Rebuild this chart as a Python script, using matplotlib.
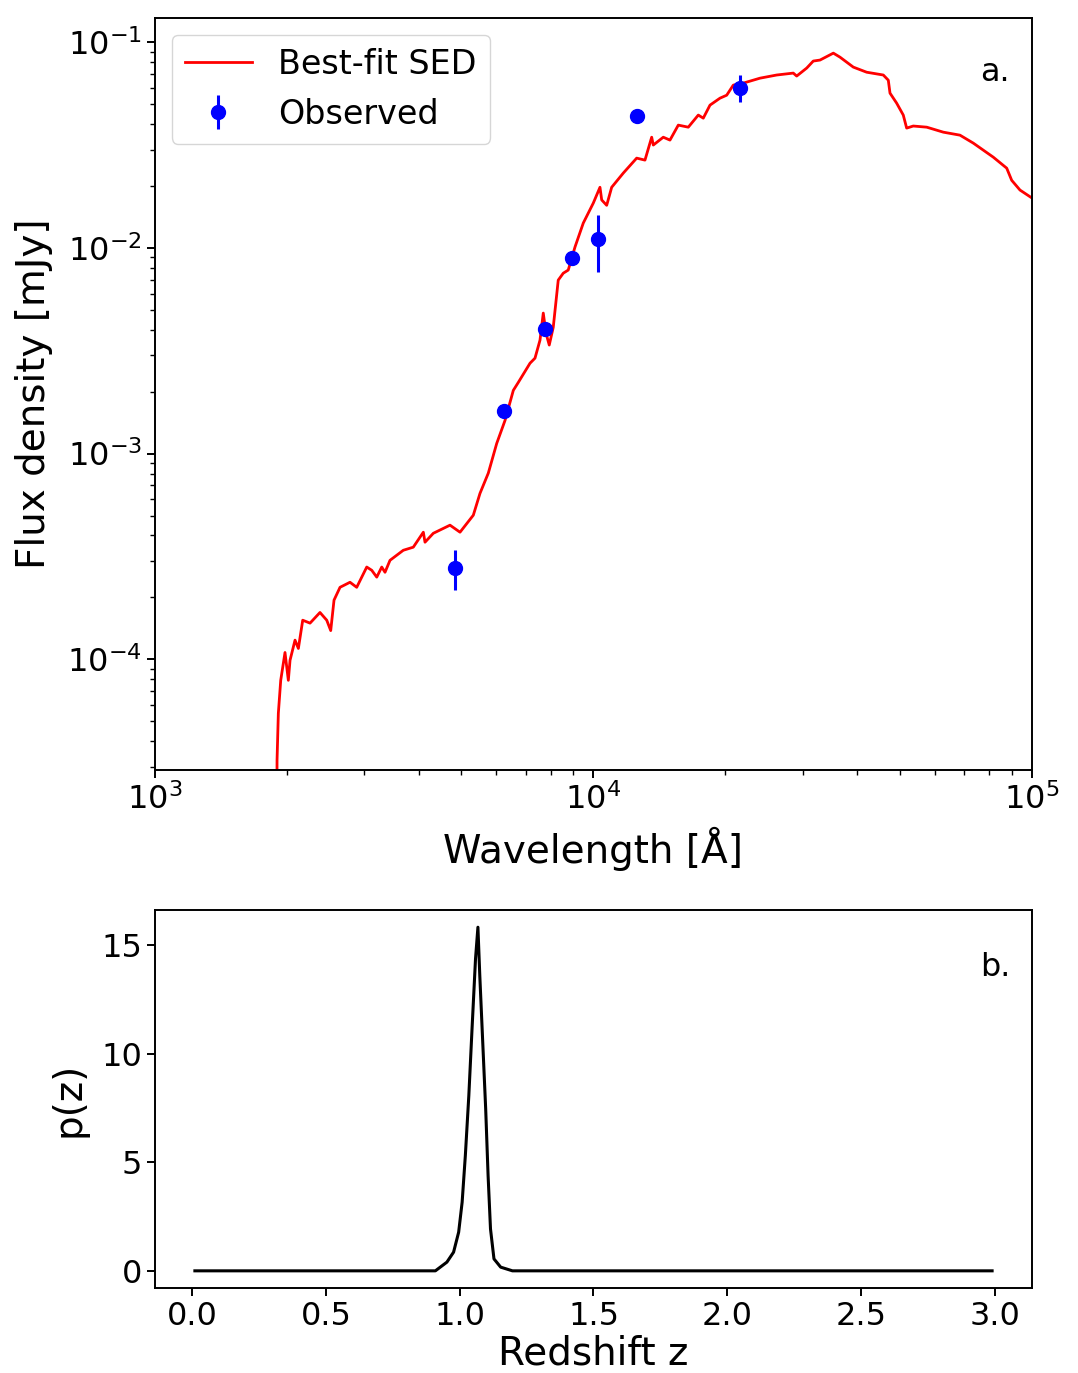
import numpy as np
import matplotlib
matplotlib.use('Agg')
import matplotlib.pyplot as plt

# best-fit SED (wavelength in Angstrom, flux density in mJy)
sedWave = [1885, 1898, 1911, 1935, 1979, 2014, 2032, 2086, 2123, 2172, 2257, 2378, 2464,
           2516, 2560, 2642, 2784, 2884, 3040, 3121, 3204, 3289, 3346, 3435, 3683, 3882,
           4092, 4128, 4312, 4707, 4961, 5320, 5510, 5756, 6015, 6284, 6564, 6739, 7165,
           7355, 7551, 7682, 7792, 7927, 8095, 8310, 8531, 8758, 9075, 9478, 9989, 10346,
           10440, 10717, 11002, 11695, 12545, 13104, 13574, 13690, 14427, 14942, 15610,
           16452, 17338, 17799, 18437, 19430, 20126, 20835, 21958, 23974, 26171, 28553,
           29068, 30640, 31713, 32855, 35238, 36492, 39130, 41976, 45808, 47026, 47450,
           49137, 50874, 51786, 53616, 57544, 62780, 68518, 73470, 81605, 87580, 89900,
           93900, 99470, 101000]
sedFlux = [1e-6, 3.23e-5, 5.47e-5, 7.91e-5, 1.08e-4, 7.91e-5, 9.9e-5, 1.24e-4, 1.13e-4,
           1.55e-4, 1.50e-4, 1.69e-4, 1.55e-4, 1.38e-4, 1.94e-4, 2.24e-4, 2.37e-4, 2.24e-4,
           2.81e-4, 2.71e-4, 2.51e-4, 2.81e-4, 2.65e-4, 3.03e-4, 3.39e-4, 3.51e-4, 4.15e-4,
           3.71e-4, 4.10e-4, 4.49e-4, 4.15e-4, 5.02e-4, 6.41e-4, 8.04e-4, 1.12e-3, 1.45e-3,
           2.03e-3, 2.22e-3, 2.75e-3, 2.91e-3, 3.56e-3, 4.82e-3, 3.85e-3, 3.37e-3, 4.11e-3,
           6.97e-3, 7.53e-3, 7.80e-3, 1.01e-2, 1.32e-2, 1.65e-2, 1.97e-2, 1.71e-2, 1.61e-2,
           1.97e-2, 2.31e-2, 2.73e-2, 2.67e-2, 3.45e-2, 3.16e-2, 3.45e-2, 3.34e-2, 3.95e-2,
           3.86e-2, 4.42e-2, 4.27e-2, 4.94e-2, 5.34e-2, 5.52e-2, 6.18e-2, 6.32e-2, 6.68e-2,
           6.92e-2, 7.07e-2, 6.84e-2, 7.48e-2, 8.09e-2, 8.18e-2, 8.84e-2, 8.45e-2, 7.56e-2,
           7.14e-2, 6.92e-2, 6.53e-2, 5.65e-2, 5.05e-2, 4.42e-2, 3.82e-2, 3.91e-2, 3.86e-2,
           3.65e-2, 3.53e-2, 3.23e-2, 2.76e-2, 2.44e-2, 2.13e-2, 1.91e-2, 1.76e-2, 1.73e-2]

# observed photometry
obsWave = [4831, 6250, 7745, 8930, 10240, 12560, 21580]
obsFlux = [2.77e-4, 1.61e-3, 4.03e-3, 8.9e-3, 1.10e-2, 4.37e-2, 5.97e-2]
obsErrLow = [0.60e-4, 0.05e-3, 0.15e-3, 0.2e-3, 0.34e-2, 0.1e-2, 0.86e-2]
obsErrHigh = [0.62e-4, 0.05e-3, 0.15e-3, 0.2e-3, 0.34e-2, 0.1e-2, 0.95e-2]

# photometric redshift probability distribution
zGrid = [0.01, 0.909, 0.952, 0.977, 0.996, 1.009, 1.021, 1.034, 1.046, 1.059, 1.068,
         1.075, 1.086, 1.097, 1.106, 1.115, 1.128, 1.153, 1.197, 2.99]
pz = [0.0, 0.0, 0.40, 0.86, 1.78, 3.16, 5.31, 8.07, 11.14, 14.36, 15.82,
      13.59, 10.52, 7.46, 4.39, 1.93, 0.55, 0.17, 0.0, 0.0]

plt.rcParams['font.family'] = 'DejaVu Sans'
fig = plt.figure(figsize=(10.78, 13.73), dpi=100)
ax1 = fig.add_axes([0.1438, 0.4392, 0.8135, 0.5477])
ax2 = fig.add_axes([0.1438, 0.0619, 0.8135, 0.2753])

'''Panel a: SED'''
ax1.plot(sedWave, sedFlux, color='red', lw=2.0, label='Best-fit SED')
ax1.errorbar(obsWave, obsFlux, yerr=[obsErrLow, obsErrHigh], fmt='o', color='blue',
             ms=10, elinewidth=2.2, label='Observed')
ax1.set_xscale('log')
ax1.set_yscale('log')
ax1.set_xlim(1e3, 1e5)
ax1.set_ylim(2.9e-5, 0.131)
ax1.set_xlabel('Wavelength [Å]', fontsize=28, labelpad=8)
ax1.set_ylabel('Flux density [mJy]', fontsize=28, labelpad=10)
ax1.text(0.958, 0.928, 'a.', transform=ax1.transAxes, fontsize=23, ha='center', va='center')
ax1.legend(loc='upper left', fontsize=24, borderaxespad=0.5)

'''Panel b: p(z)'''
ax2.plot(zGrid, pz, color='black', lw=2.2)
ax2.set_xticks([0.0, 0.5, 1.0, 1.5, 2.0, 2.5, 3.0])
ax2.set_yticks([0, 5, 10, 15])
ax2.set_xlabel('Redshift z', fontsize=28, labelpad=2)
ax2.set_ylabel('p(z)', fontsize=28, labelpad=10)
ax2.text(0.958, 0.847, 'b.', transform=ax2.transAxes, fontsize=23, ha='center', va='center')

for ax in (ax1, ax2):
    ax.tick_params(which='major', labelsize=23, length=6, width=1.4)
    ax.tick_params(which='minor', length=3.5, width=1.0)
    for s in ax.spines.values():
        s.set_linewidth(1.4)

fig.savefig('out.png', dpi=100)
